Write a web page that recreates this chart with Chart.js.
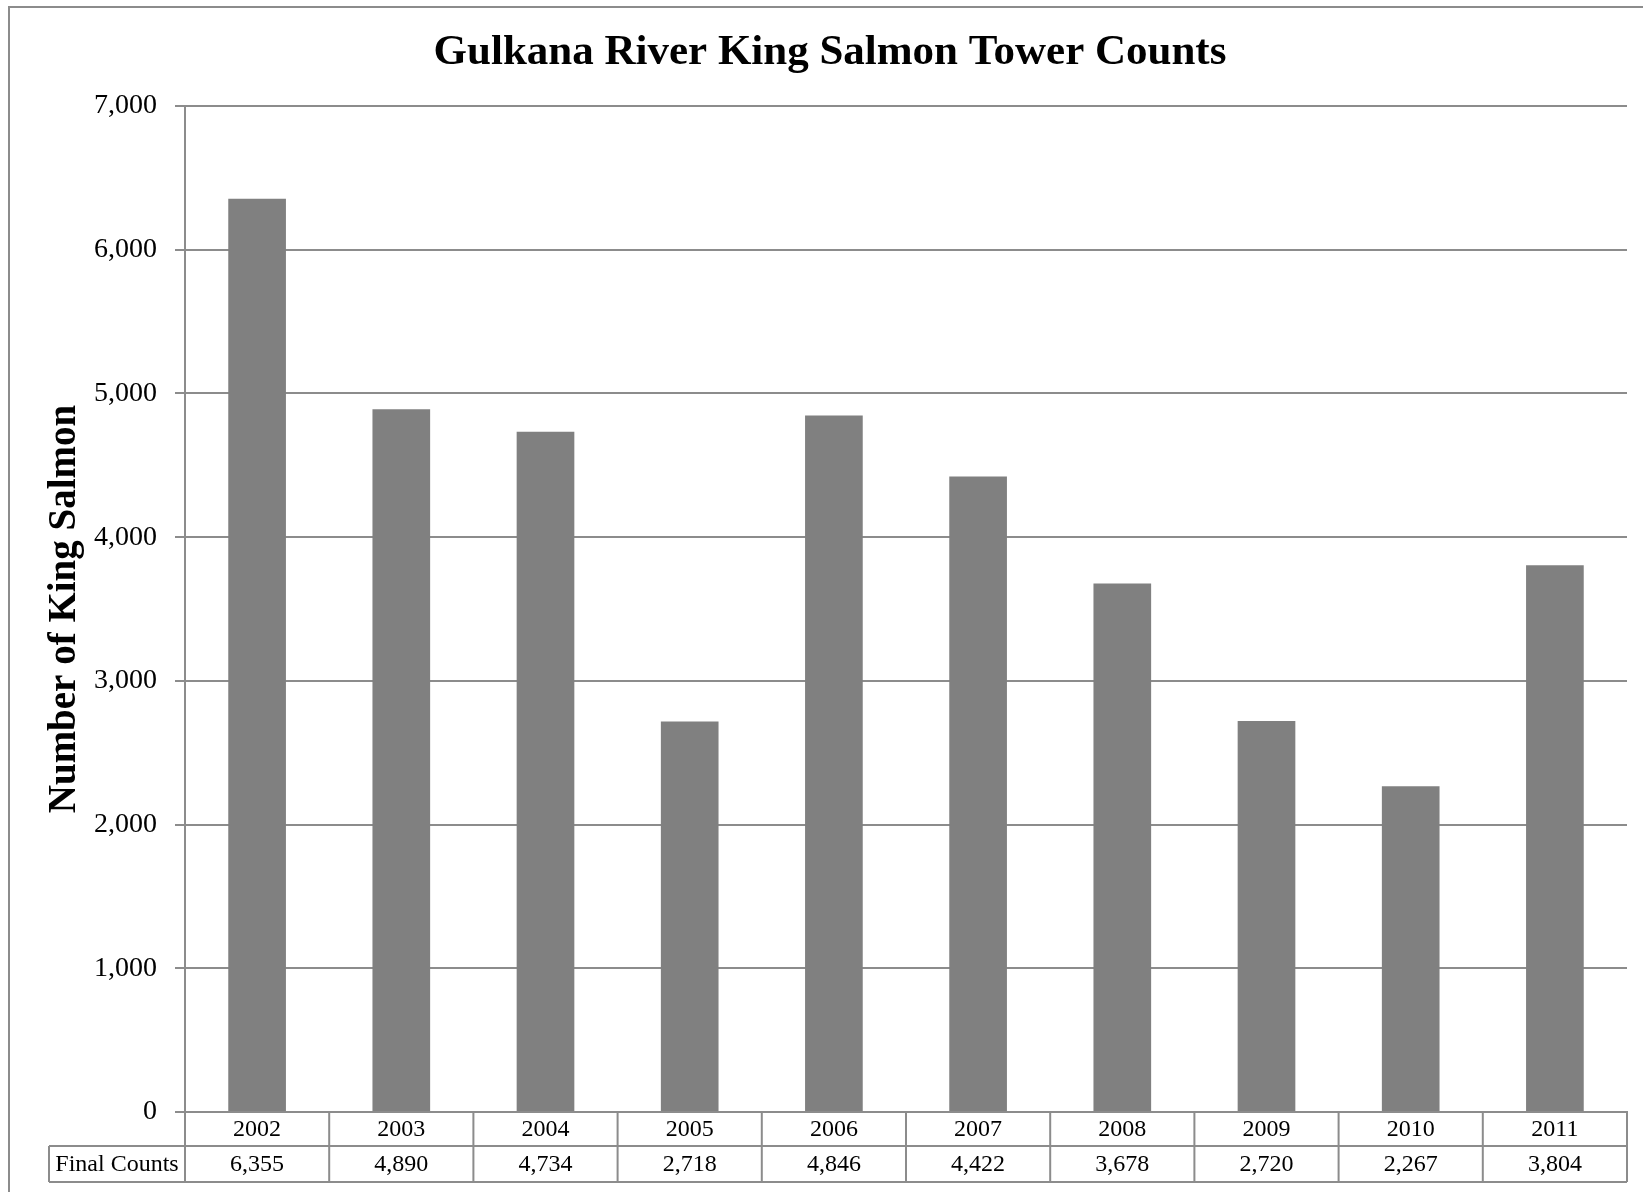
<!DOCTYPE html>
<html>
<head>
<meta charset="utf-8">
<script src="https://cdn.jsdelivr.net/npm/chart.js@4/dist/chart.umd.min.js"></script>
<style>
  body { margin: 0; background: #fff; }
  #wrap { width: 1643px; height: 1192px; position: relative; }
</style>
</head>
<body>
<div id="wrap"><canvas id="myChart"></canvas></div>
<script>
const years = ["2002","2003","2004","2005","2006","2007","2008","2009","2010","2011"];
const finalCounts = [6355, 4890, 4734, 2718, 4846, 4422, 3678, 2720, 2267, 3804];
const rowLabel = "Final Counts";
const chartTitle = "Gulkana River King Salmon Tower Counts";
const yTitle = "Number of King Salmon";
const yMin = 0;
const yMax = 7000;
const yStep = 1000;

const lineGray = "#8c8c8c";
const serif = '"Liberation Serif", "Times New Roman", serif';

const fmt = v => Number(v).toLocaleString("en-US");

// title, axis title, frame and the data table under the bars
const extras = {
    id: "extras",
    afterDraw(chart) {
        const ctx = chart.ctx;
        const x = chart.scales.x;
        const area = chart.chartArea;
        ctx.save();

        // outer frame (cut off at right and bottom)
        ctx.strokeStyle = lineGray;
        ctx.lineWidth = 2;
        ctx.beginPath();
        ctx.moveTo(9, 1192);
        ctx.lineTo(9, 7);
        ctx.lineTo(1643, 7);
        ctx.stroke();

        ctx.fillStyle = "#000";
        ctx.font = "bold 43px " + serif;
        ctx.textAlign = "center";
        ctx.textBaseline = "alphabetic";
        ctx.fillText(chartTitle, 830, 64);

        ctx.save();
        ctx.translate(75, (area.top + area.bottom) / 2);
        ctx.rotate(-Math.PI / 2);
        ctx.font = "bold 39px " + serif;
        ctx.fillText(yTitle, 0, 0);
        ctx.restore();

        // table
        const colW = (area.right - area.left) / years.length;
        const r0 = area.bottom, r1 = r0 + 34, r2 = r1 + 36;
        const labelLeft = 49;
        ctx.strokeStyle = lineGray;
        ctx.lineWidth = 2;
        ctx.beginPath();
        ctx.moveTo(labelLeft, r1); ctx.lineTo(area.right, r1);
        ctx.moveTo(labelLeft, r2); ctx.lineTo(area.right, r2);
        ctx.moveTo(labelLeft, r1); ctx.lineTo(labelLeft, r2);
        for (let i = 0; i <= years.length; i++) {
            const cx = area.left + i * colW;
            ctx.moveTo(cx, r0); ctx.lineTo(cx, r2);
        }
        ctx.stroke();

        ctx.fillStyle = "#000";
        ctx.font = "24px " + serif;
        ctx.textBaseline = "middle";
        ctx.textAlign = "center";
        for (let i = 0; i < years.length; i++) {
            const cx = x.getPixelForValue(i);
            ctx.fillText(years[i], cx, (r0 + r1) / 2 + 1);
            ctx.fillText(fmt(finalCounts[i]), cx, (r1 + r2) / 2 + 1);
        }
        ctx.fillText(rowLabel, (labelLeft + area.left) / 2, (r1 + r2) / 2 + 1);
        ctx.restore();
    }
};

const ctx = document.getElementById("myChart");
const myChart = new Chart(ctx, {
    type: "bar",
    data: {
        labels: years,
        datasets: [{
            label: rowLabel,
            data: finalCounts,
            backgroundColor: "#808080",
            borderWidth: 0,
            barPercentage: 0.4,
            categoryPercentage: 1
        }]
    },
    options: {
        responsive: true,
        maintainAspectRatio: false,
        animation: false,
        layout: { padding: { top: 106, right: 16, bottom: 80, left: 0 } },
        plugins: {
            legend: { display: false },
            tooltip: { enabled: false }
        },
        scales: {
            x: {
                grid: { display: false },
                border: { display: true, color: lineGray, width: 2 },
                ticks: { display: false },
                afterFit(scale) { scale.height = 0; }
            },
            y: {
                min: yMin,
                max: yMax,
                ticks: {
                    stepSize: yStep,
                    color: "#000",
                    padding: 18,
                    font: { family: serif, size: 28 },
                    callback: v => fmt(v)
                },
                grid: { color: lineGray, lineWidth: 2, tickLength: 10, drawTicks: true },
                border: { display: true, color: lineGray, width: 2 },
                afterFit(scale) { scale.width = 185; }
            }
        }
    },
    plugins: [extras]
});
</script>
</body>
</html>
